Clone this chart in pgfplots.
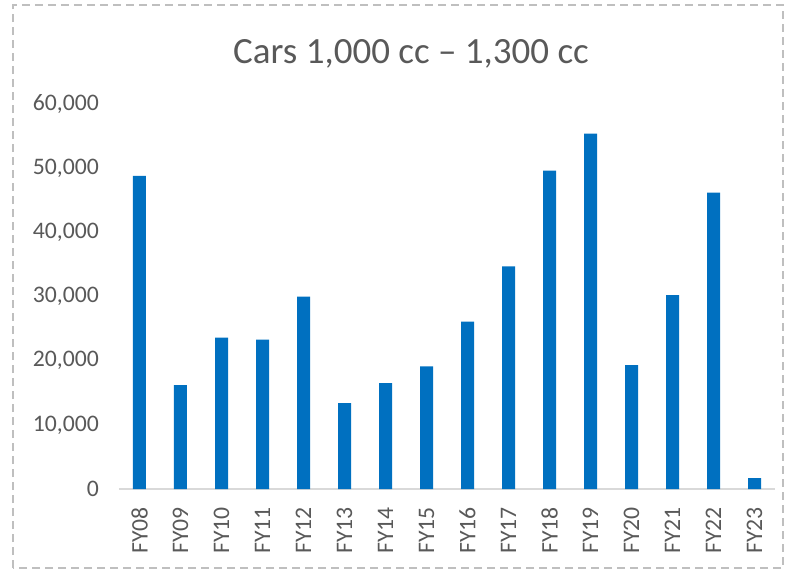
\documentclass[border=0pt]{standalone}
\usepackage{fontspec}
\setmainfont{Carlito}
\usepackage{pgfplots}
\pgfplotsset{compat=1.18}
\definecolor{barblue}{HTML}{0070C0}
\definecolor{txtgray}{HTML}{595959}
\definecolor{linegray}{HTML}{D9D9D9}
\definecolor{bordergray}{HTML}{BFBFBF}

\begin{document}
\begin{tikzpicture}
\useasboundingbox (-59.5pt,-40.5pt) rectangle (333.5pt,244.5pt);
\draw[bordergray, line width=0.6pt, dash pattern=on 4pt off 2.5pt] (-53pt,-39.5pt) rectangle (332pt,242pt);
\node[anchor=base, text=txtgray, font=\fontsize{18.5}{22}\selectfont] at (146pt,213pt) {Cars 1,000 cc – 1,300 cc};
\begin{axis}[
    at={(0pt,0pt)}, anchor=south west,
    scale only axis,
    width=328pt, height=192.5pt,
    ybar, bar width=6.5pt,
    xmin=-0.5, xmax=15.5,
    ymin=0, ymax=60000,
    ytick distance=10000,
    xtick=data,
    xticklabels={FY08,FY09,FY10,FY11,FY12,FY13,FY14,FY15,FY16,FY17,FY18,FY19,FY20,FY21,FY22,FY23},
    x tick label style={rotate=90, anchor=east, xshift=-5.5pt},
    y tick label style={xshift=-6.5pt},
    ticklabel style={text=txtgray, font=\fontsize{11.85}{14}\selectfont},
    /pgf/number format/.cd, 1000 sep={,}, assume math mode=true, /pgfplots/.cd,
    scaled y ticks=false,
    major tick length=0pt,
    axis x line*=bottom, axis y line*=left,
    x axis line style={linegray, line width=0.8pt, -},
    y axis line style={draw=none},
]
\addplot[fill=barblue, draw=none] coordinates {
(0,48800) (1,16200) (2,23600) (3,23300) (4,30000) (5,13400) (6,16500) (7,19100)
(8,26100) (9,34700) (10,49600) (11,55400) (12,19300) (13,30200) (14,46200) (15,1700)
};
\end{axis}
\end{tikzpicture}
\end{document}
